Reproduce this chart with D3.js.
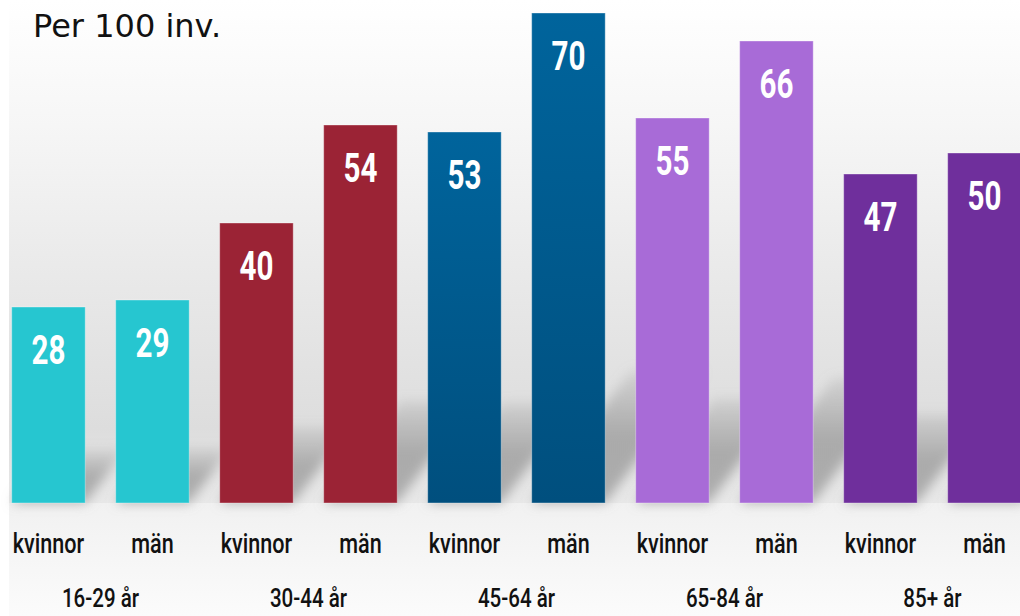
<!DOCTYPE html>
<html>
<head>
<meta charset="utf-8">
<script src="https://cdn.jsdelivr.net/npm/d3@7"></script>
<style>
  html, body { margin: 0; padding: 0; background: #fff; }
  svg { display: block; }
</style>
</head>
<body>
<div id="chart"></div>
<script>
// data
var groups = ["16-29 år", "30-44 år", "45-64 år", "65-84 år", "85+ år"];
var sexes = ["kvinnor", "män"];
var values = [28, 29, 40, 54, 53, 70, 55, 66, 47, 50];
var groupColors = ["#26c6d0", "#9b2335", "#00609a", "#a86bd7", "#6f2f9c"];
var unitLabel = "Per 100 inv.";

var W = 1020, H = 616, base = 503;

var svg = d3.select("#chart")
    .append("svg")
    .attr("width", W)
    .attr("height", H);

var defs = svg.append("defs");

var bg = defs.append("linearGradient").attr("id", "bg")
    .attr("x1", 0).attr("y1", 0).attr("x2", 0).attr("y2", 1);
[[0, "#ffffff"], [0.25, "#f6f6f6"], [0.55, "#e9e9e9"], [0.85, "#dddddd"], [1, "#e8e8e8"]]
    .forEach(function (s) { bg.append("stop").attr("offset", s[0]).attr("stop-color", s[1]); });

var floor = defs.append("linearGradient").attr("id", "floor")
    .attr("x1", 0).attr("y1", 0).attr("x2", 0).attr("y2", 1);
floor.append("stop").attr("offset", 0).attr("stop-color", "#f1f1f1");
floor.append("stop").attr("offset", 1).attr("stop-color", "#fbfbfb");

var blueGrad = defs.append("linearGradient").attr("id", "blueGrad")
    .attr("x1", 0).attr("y1", 0).attr("x2", 0).attr("y2", 1);
blueGrad.append("stop").attr("offset", 0).attr("stop-color", "#00649c");
blueGrad.append("stop").attr("offset", 1).attr("stop-color", "#004f7e");

var shade = defs.append("linearGradient").attr("id", "shade")
    .attr("x1", 0).attr("y1", 0).attr("x2", 0).attr("y2", 1);
shade.append("stop").attr("offset", 0).attr("stop-color", "#999").attr("stop-opacity", 0.2);
shade.append("stop").attr("offset", 0.5).attr("stop-color", "#999").attr("stop-opacity", 0.75);
shade.append("stop").attr("offset", 1).attr("stop-color", "#999").attr("stop-opacity", 0.75);

defs.append("filter").attr("id", "blur")
    .attr("x", "-50%").attr("y", "-50%").attr("width", "200%").attr("height", "200%")
    .append("feGaussianBlur").attr("stdDeviation", 6);

svg.append("rect").attr("x", 9).attr("y", 0).attr("width", W - 9).attr("height", base)
    .attr("fill", "url(#bg)");
svg.append("rect").attr("x", 9).attr("y", base).attr("width", W - 9).attr("height", H - base)
    .attr("fill", "url(#floor)");

var x = d3.scaleBand()
    .domain(d3.range(values.length))
    .range([11.7, 1021.2])
    .paddingInner(0.293)
    .paddingOuter(0);

var y = d3.scaleLinear()
    .domain([0, 70])
    .range([base, 13]);

function barColor(i) {
    var g = Math.floor(i / 2);
    return g == 2 ? "url(#blueGrad)" : groupColors[g];
}

// shadows cast behind the bars
svg.append("g")
    .selectAll("path")
    .data(values)
    .enter()
    .append("path")
    .attr("d", function (d, i) {
        var x0 = x(i), x1 = x(i) + x.bandwidth();
        var dy = 0.27 * (base - y(d)), dx = 0.75 * dy;
        return "M" + x0 + "," + base + "L" + x1 + "," + base +
            "L" + (x1 + dx) + "," + (base - dy) + "L" + (x0 + dx) + "," + (base - dy) + "Z";
    })
    .attr("fill", "url(#shade)")
    .attr("filter", "url(#blur)");

svg.append("g")
    .selectAll("rect")
    .data(values)
    .enter()
    .append("rect")
    .attr("x", function (d, i) { return x(i); })
    .attr("y", function (d) { return y(d); })
    .attr("width", x.bandwidth())
    .attr("height", function (d) { return base - y(d); })
    .attr("fill", function (d, i) { return barColor(i); })
    .attr("stroke", "rgba(255,255,255,0.35)")
    .attr("stroke-width", 1);

var narrow = "Roboto, 'Liberation Sans', sans-serif";

// condensed look: squeeze the text horizontally
function squeeze(sel, sx) {
    sel.attr("transform", function () {
        var t = d3.select(this);
        return "translate(" + t.attr("data-x") + "," + t.attr("data-y") + ") scale(" + sx + ",1)";
    });
}

svg.append("g")
    .selectAll("text")
    .data(values)
    .enter()
    .append("text")
    .attr("data-x", function (d, i) { return x(i) + x.bandwidth() / 2; })
    .attr("data-y", function (d) { return y(d) + 57; })
    .attr("text-anchor", "middle")
    .attr("fill", "#ffffff")
    .style("font-family", narrow)
    .style("font-weight", "bold")
    .style("font-size", "40px")
    .text(function (d) { return d; })
    .call(squeeze, 0.74);

svg.append("g")
    .selectAll("text")
    .data(values)
    .enter()
    .append("text")
    .attr("data-x", function (d, i) { return x(i) + x.bandwidth() / 2; })
    .attr("data-y", 553)
    .attr("text-anchor", "middle")
    .attr("fill", "#111")
    .style("font-family", narrow)
    .style("font-weight", 500)
    .style("font-size", "27px")
    .text(function (d, i) { return sexes[i % 2]; })
    .call(squeeze, 0.8);

svg.append("g")
    .selectAll("text")
    .data(groups)
    .enter()
    .append("text")
    .attr("data-x", function (d, g) { return (x(2 * g) + x(2 * g + 1) + x.bandwidth()) / 2; })
    .attr("data-y", 607)
    .attr("text-anchor", "middle")
    .attr("fill", "#111")
    .style("font-family", narrow)
    .style("font-weight", 500)
    .style("font-size", "26px")
    .text(function (d) { return d; })
    .call(squeeze, 0.79);

svg.append("text")
    .attr("x", 33)
    .attr("y", 37)
    .attr("fill", "#111")
    .style("font-family", "'DejaVu Sans', Verdana, sans-serif")
    .style("font-size", "32px")
    .text(unitLabel);
</script>
</body>
</html>
